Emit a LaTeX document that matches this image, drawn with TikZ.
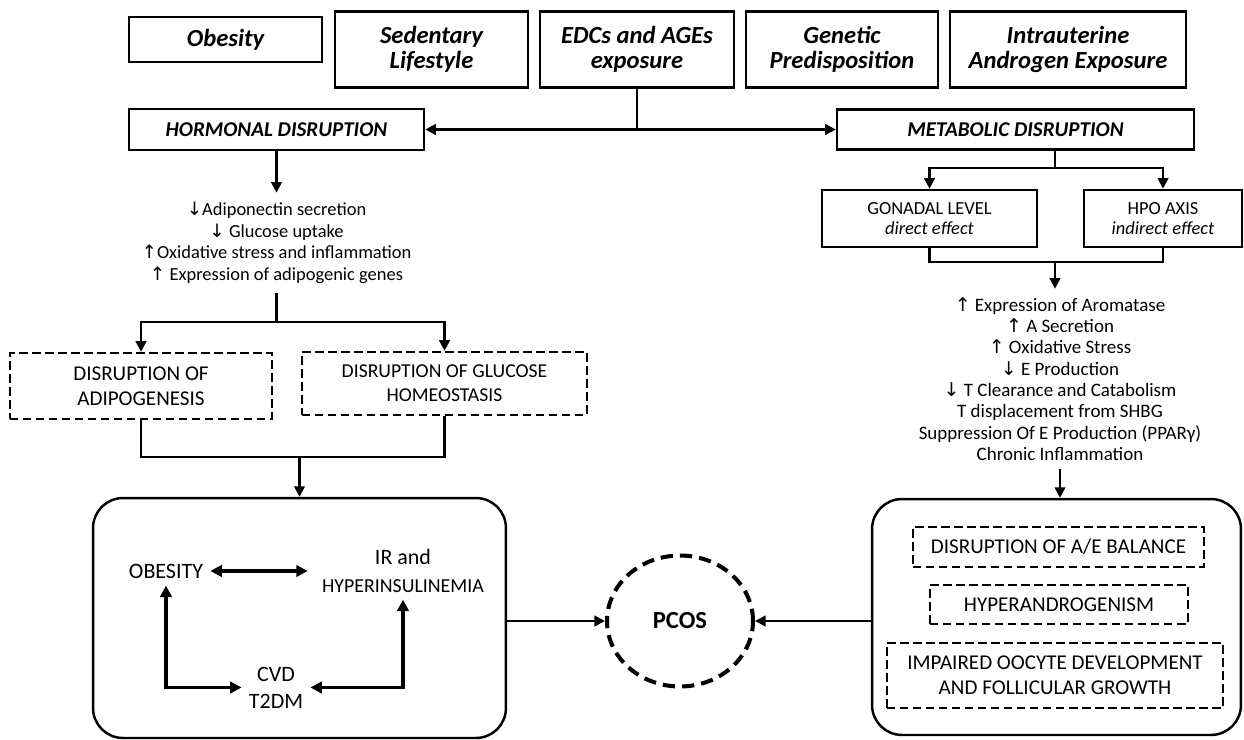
\documentclass[tikz,border=0pt]{standalone}
\usepackage{fontspec}
\setmainfont{Carlito}
\newfontfamily\arrfont{DejaVu Sans}
\usetikzlibrary{arrows.meta,shapes.geometric,calc}
\newcommand{\myup}{{\arrfont\char"2191}}
\newcommand{\mydown}{{\arrfont\char"2193}}
\begin{document}
\begin{tikzpicture}[x=0.02cm,y=-0.02cm,
 box/.style={draw,line width=1.5pt,inner sep=0pt,align=center},
 topbox/.style={box,font=\fontsize{14}{14.5}\selectfont\bfseries\itshape},
 midbox/.style={box,font=\fontsize{12}{14}\selectfont\bfseries\itshape},
 smallbox/.style={box,font=\fontsize{10.5}{11.4}\selectfont},
 dbox/.style={draw,line width=1.4pt,dash pattern=on 4.8pt off 2.6pt,inner sep=0pt,align=center,font=\fontsize{12}{14.2}\selectfont},
 rbox/.style={draw,line width=1.4pt,rounded corners=0.6cm,inner sep=0pt},
 conn/.style={line width=1.35pt},
 arr/.style={line width=1.35pt,-{Triangle[length=6pt,width=6pt]}},
 barr/.style={line width=1.9pt,{Triangle[length=6.5pt,width=6.5pt]}-{Triangle[length=6.5pt,width=6.5pt]}},
 lst/.style={inner sep=0pt,align=center},
 inner/.style={inner sep=4pt,align=center,font=\fontsize{12.5}{15.5}\selectfont}]
\useasboundingbox (0,0) rectangle (1244,740);

% top row
\node[topbox,minimum width=3.86cm,minimum height=0.9cm] (obes) at (225.5,39.5) {Obesity};
\node[topbox,minimum width=3.86cm,minimum height=1.52cm] (sed) at (431.5,49.5) {Sedentary\\Lifestyle};
\node[topbox,minimum width=3.88cm,minimum height=1.52cm] (edc) at (637,49.5) {EDCs and AGEs\\exposure};
\node[topbox,minimum width=3.84cm,minimum height=1.52cm] (gen) at (842,49.5) {Genetic\\Predisposition};
\node[topbox,minimum width=4.72cm,minimum height=1.52cm] (intra) at (1068,49.5) {Intrauterine\\Androgen Exposure};

\node[midbox,minimum width=5.9cm,minimum height=0.82cm] (horm) at (276.5,129.5) {HORMONAL DISRUPTION};
\node[midbox,minimum width=7.14cm,minimum height=0.8cm] (metab) at (1015.5,129.5) {METABOLIC DISRUPTION};

\draw[conn] (edc.south) -- (edc.south |- horm.east) coordinate (j1);
\draw[arr] (j1) -- (horm.east);
\draw[arr] (j1) -- (metab.west);

% left branch
\node[lst,font=\fontsize{10.5}{12.2}\selectfont,minimum height=2cm] (l1) at (276.5,243)
 {\mydown Adiponectin secretion\\\mydown{} Glucose uptake\\\myup Oxidative stress and inflammation\\\myup{} Expression of adipogenic genes};
\draw[arr] (horm.south) -- (l1.north);

\node[dbox,minimum width=5.24cm,minimum height=1.32cm] (adip) at (141,386) {DISRUPTION OF\\ADIPOGENESIS};
\node[dbox,font=\fontsize{11.2}{13.7}\selectfont,minimum width=5.7cm,minimum height=1.26cm] (gluc) at (444.5,383.5) {DISRUPTION OF GLUCOSE\\HOMEOSTASIS};

\coordinate (j2) at (276.5,322);
\draw[conn] (l1.south) -- (j2);
\draw[arr] (j2) -| (adip.north);
\draw[arr] (j2) -| (gluc.north);

\node[rbox,minimum width=8.26cm,minimum height=4.8cm] (lbox) at (299.5,618) {};
\coordinate (j3) at (299.5,457);
\draw[conn] (adip.south) |- (gluc.south |- j3) -- (gluc.south);
\draw[arr] (j3) -- (lbox.north);

\node[inner] (ob2) at (166,571) {OBESITY};
\node[inner] (ir) at (403,571) {IR and\\{\fontsize{11.3}{13}\selectfont HYPERINSULINEMIA}};
\node[inner] (cvd) at (276,687.5) {CVD\\T2DM};
\draw[barr,shorten >=4pt] (ob2.east) -- (ob2.east -| ir.west);
\draw[barr] (ob2.south) |- (cvd.west);
\draw[barr] (cvd.east) -| (ir.south);

% PCOS
\node[ellipse,draw,line width=2.3pt,dash pattern=on 7pt off 4pt,minimum width=2.92cm,minimum height=2.62cm,font=\fontsize{14}{16}\selectfont\bfseries] (pcos) at (680,621) {PCOS};
\draw[arr] (lbox.east |- pcos) -- (pcos.west);

% right branch
\node[smallbox,minimum width=4.3cm,minimum height=1.14cm] (gon) at (929.5,218.5) {GONADAL LEVEL\\\textit{direct effect}};
\node[smallbox,minimum width=3.16cm,minimum height=1.14cm] (hpo) at (1163,218.5) {HPO AXIS\\\textit{indirect effect}};
\coordinate (m1) at (1055,168);
\draw[conn] (metab.south -| m1) -- (m1);
\draw[arr] (m1) -| (gon.north);
\draw[arr] (m1) -| (hpo.north);

\coordinate (m2) at (1055,262);
\node[lst,font=\fontsize{10.8}{12.1}\selectfont,minimum height=3.6cm] (l2) at (1060,379)
 {\myup{} Expression of Aromatase\\\myup{} A Secretion\\\myup{} Oxidative Stress\\\mydown{} E Production\\\mydown{} T Clearance and Catabolism\\T displacement from SHBG\\Suppression Of E Production (PPARγ)\\Chronic Inflammation};
\draw[conn] (gon.south) |- (hpo.south |- m2) -- (hpo.south);
\draw[arr] (m2) -- (m2 |- l2.north);

\node[rbox,minimum width=7.38cm,minimum height=4.72cm] (rbox) at (1056.5,617) {};
\draw[arr] (l2.south) -- (l2.south |- rbox.north);

\node[dbox,minimum width=5.82cm,minimum height=0.8cm] (ae) at (1058.5,547) {DISRUPTION OF A/E BALANCE};
\node[dbox,minimum width=5.16cm,minimum height=0.78cm] (hyp) at (1059,604.5) {HYPERANDROGENISM};
\node[dbox,minimum width=6.72cm,minimum height=1.3cm] (imp) at (1055,675.5) {IMPAIRED OOCYTE DEVELOPMENT\\AND FOLLICULAR GROWTH};

\draw[arr] (rbox.west |- pcos) -- (pcos.east);
\end{tikzpicture}
\end{document}
